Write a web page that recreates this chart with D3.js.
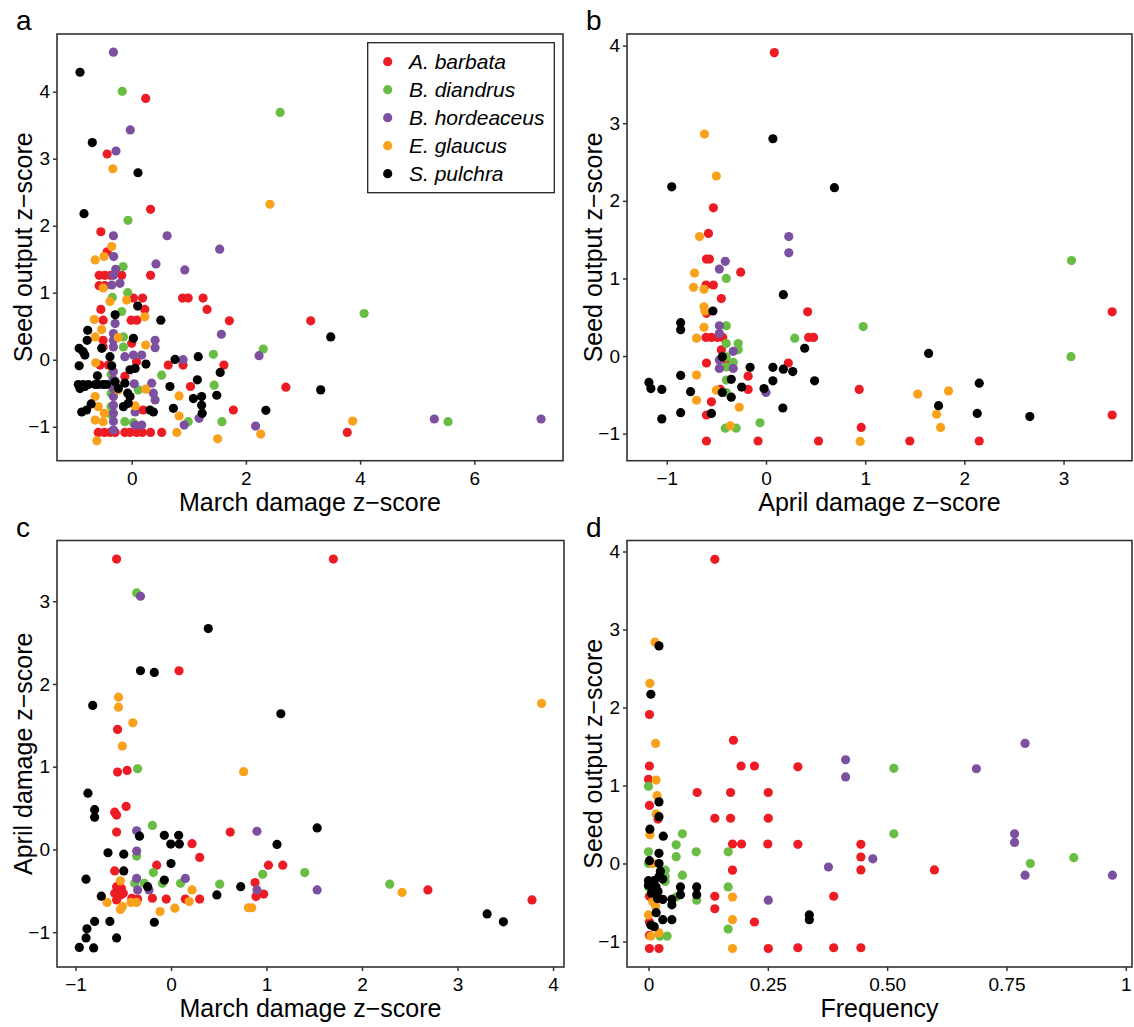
<!DOCTYPE html>
<html>
<head>
<meta charset="utf-8">
<script src="https://cdn.jsdelivr.net/npm/d3@7"></script>
<style>
  html, body { margin: 0; padding: 0; background: #fff; }
  svg { display: block; font-family: "Liberation Sans", Arial, Helvetica, sans-serif; }
</style>
</head>
<body>
<svg id="chart" width="1134" height="1027"></svg>
<script>
// ---------------- DATA ----------------
const species = ["A. barbata", "B. diandrus", "B. hordeaceus", "E. glaucus", "S. pulchra"];

// Panel a: March damage z-score (x) vs Seed output z-score (y)
const a_barbata = [[0.245,3.90],[-0.43,3.07],[0.33,2.245],[-0.54,1.91],[-0.43,1.61],
  [0.33,1.26],[-0.57,1.26],[-0.47,1.26],[-0.37,1.26],[-0.175,1.26],[-0.57,1.105],[-0.47,1.105],
  [0.03,0.92],[0.19,0.92],[0.89,0.92],[0.99,0.92],[1.25,0.92],[1.32,0.75],[0.23,0.75],[-0.54,0.75],
  [-0.01,0.59],[0.09,0.59],[-0.5,0.59],[0.0,0.245],[-0.5,0.29],[-0.5,0.19],
  [-0.41,-0.08],[-0.555,-0.08],[0.085,-0.03],[0.64,-0.08],[0.9,-0.08],[-0.12,-0.25],[1.03,-0.40],[0.2,-0.75],
  [-0.585,-1.085],[-0.48,-1.085],[-0.38,-1.085],[-0.29,-1.085],[-0.12,-1.085],[-0.03,-1.085],[0.09,-1.085],
  [0.185,-1.085],[0.33,-1.085],[0.525,-1.085],
  [1.71,0.58],[3.135,0.58],[1.615,-0.08],[2.70,-0.41],[1.78,-0.75],[3.775,-1.085]];
const a_diandrus = [[-0.165,4.006],[2.60,3.69],[-0.065,2.08],[-0.15,1.39],[-0.34,0.93],[-0.07,1.0],[-0.175,0.72],
  [-0.145,0.34],[-0.145,0.19],[1.43,0.08],[0.525,-0.23],[0.115,-0.45],[1.445,-0.38],[0.99,-0.925],[1.58,-0.925],
  [-0.12,-0.925],[0.03,-0.94],[2.305,0.16],[4.07,0.69],[5.54,-0.925],
  [-0.36,-0.22],[-0.36,-0.35],[-0.36,-0.5],[-0.36,-0.7],[-0.36,-0.82]];
const a_hordeaceus = [[-0.32,4.59],[-0.025,3.43],[-0.275,3.115],[-0.32,1.85],[0.62,1.85],[-0.315,1.54],[1.54,1.65],
  [0.425,1.43],[0.93,1.34],[-0.28,1.35],[-0.32,1.26],[-0.205,1.14],[-0.35,1.115],[-0.29,0.54],
  [-0.32,0.39],[-0.32,0.29],[-0.32,0.19],[0.41,0.29],[0.41,0.18],[-0.12,0.045],[0.03,0.07],[0.175,0.07],[0.9,0.0],
  [-0.32,-0.18],[-0.32,-0.30],[-0.32,-0.43],[-0.32,-0.55],[-0.32,-0.68],[-0.32,-0.80],[-0.32,-0.92],[-0.32,-1.05],
  [0.045,-0.36],[0.35,-0.35],[0.38,-0.50],[0.41,-0.60],[0.06,-0.78],[0.06,-0.975],[0.175,-0.975],[0.92,-0.975],
  [1.18,-0.875],[1.57,0.38],[2.23,0.06],[2.17,-0.99],[5.30,-0.885],[7.17,-0.885]];
const a_glaucus = [[-0.33,2.85],[2.42,2.32],[-0.35,1.69],[-0.485,1.54],[-0.64,1.49],[-0.5,1.07],[-0.38,0.87],
  [-0.09,0.89],[0.23,0.64],[-0.655,0.60],[-0.525,0.45],[-0.64,0.34],[-0.235,0.33],[0.245,0.22],[-0.63,-0.045],
  [-0.235,-0.45],[0.245,-0.44],[0.83,-0.54],[0.83,-0.84],[1.505,-1.18],[0.79,-1.085],[-0.61,-1.21],[-0.64,-0.9],
  [-0.5,-0.925],[-0.64,-0.55],[-0.585,-0.70],[0.06,-0.69],[-0.48,-0.80],[2.26,-1.11],[3.87,-0.915]];
const a_pulchra = [[-0.905,4.29],[-0.69,3.24],[0.11,2.79],[-0.835,2.18],[0.105,0.80],[-0.29,0.67],[0.51,0.59],
  [-0.77,0.44],[-0.78,0.29],[0.03,0.32],[-0.92,0.17],[-0.85,0.12],[-0.82,0.07],[-0.525,0.17],
  [-0.92,-0.09],[-0.38,0.045],[-0.35,-0.09],[0.06,-0.13],[-0.03,-0.15],[0.25,-0.065],[0.76,0.005],[1.165,0.045],[1.55,-0.19],
  [-0.935,-0.37],[-0.85,-0.37],[-0.76,-0.37],[-0.905,-0.43],[-0.82,-0.40],[-0.64,-0.37],[-0.585,-0.37],[-0.5,-0.37],[-0.44,-0.37],
  [-0.6,-0.24],[-0.29,-0.33],[-0.235,-0.43],[-0.12,-0.35],[-0.07,-0.50],[-0.03,-0.55],[-0.06,-0.65],
  [0.67,-0.40],[1.15,-0.30],[1.49,-0.53],[1.08,-0.58],[1.225,-0.55],[1.225,-0.68],[1.235,-0.80],[0.73,-0.725],
  [-0.875,-0.78],[-0.79,-0.75],[-0.71,-0.66],[0.32,-0.75],[0.38,-0.78],[-0.145,-0.70],
  [3.485,0.34],[3.31,-0.45],[2.35,-0.755]];

// Panel b: April damage z-score (x) vs Seed output z-score (y)
const b_barbata = [[0.084,3.91],[-0.53,1.91],[-0.58,1.58],[-0.60,1.25],[-0.57,1.25],[-0.255,1.08],[-0.605,0.915],
  [-0.53,0.915],[-0.45,0.74],[0.42,0.57],[-0.6,0.55],[-0.605,0.24],[-0.55,0.24],[-0.49,0.24],[-0.436,0.24],[0.43,0.24],
  [0.48,0.24],[-0.45,0.08],[-0.60,-0.09],[-0.39,-0.09],[0.225,-0.09],[-0.18,-0.26],[-0.18,-0.43],[-0.46,-0.43],
  [-0.55,-0.59],[-0.60,-0.76],[-0.60,-1.095],[-0.08,-1.095],[0.53,-1.095],[3.49,0.57],[0.94,-0.43],[3.49,-0.76],
  [0.96,-0.92],[1.45,-1.095],[2.15,-1.095]];
const b_diandrus = [[-0.40,1.0],[-0.40,0.39],[0.29,0.23],[-0.40,0.16],[-0.28,0.16],[-0.28,0.08],[-0.40,-0.01],
  [-0.33,-0.08],[-0.40,-0.14],[-0.40,-0.31],[-0.40,-0.47],[-0.06,-0.86],[-0.41,-0.93],[-0.30,-0.93],[3.08,1.23],
  [0.98,0.38],[3.075,-0.008]];
const b_hordeaceus = [[0.23,1.54],[0.23,1.33],[-0.41,1.22],[-0.47,1.12],[-0.47,0.39],[-0.47,0.29],[-0.33,0.06],
  [-0.47,-0.05],[-0.47,-0.16],[-0.33,-0.16],[0.0,-0.47]];
const b_glaucus = [[-0.62,2.86],[-0.50,2.32],[-0.67,1.54],[-0.72,1.07],[-0.73,0.885],[-0.625,0.86],[-0.625,0.635],
  [-0.615,0.58],[-0.625,0.37],[-0.70,0.23],[-0.70,-0.245],[-0.50,-0.44],[-0.70,-0.57],[-0.27,-0.66],[-0.36,-0.90],
  [1.53,-0.49],[1.84,-0.45],[1.72,-0.75],[1.76,-0.92],[0.95,-1.10]];
const b_pulchra = [[0.07,2.80],[-0.95,2.18],[0.69,2.17],[0.175,0.79],[-0.535,0.58],[-0.86,0.43],[-0.86,0.34],
  [0.39,0.10],[-0.44,-0.01],[-0.16,-0.146],[0.07,-0.146],[0.175,-0.17],[0.27,-0.20],[-0.86,-0.25],[-0.35,-0.30],
  [0.07,-0.32],[0.49,-0.32],[-1.18,-0.34],[-1.16,-0.42],[-1.05,-0.43],[-0.76,-0.46],[-0.245,-0.40],[-0.02,-0.42],
  [-0.44,-0.47],[-0.35,-0.53],[0.17,-0.67],[-0.86,-0.73],[-0.55,-0.74],[-1.05,-0.81],[1.64,0.034],[2.15,-0.35],
  [1.74,-0.64],[2.13,-0.74],[2.66,-0.78]];

// Panel c: March damage z-score (x) vs April damage z-score (y)
const c_barbata = [[-0.57,3.51],[0.084,2.16],[-0.56,1.45],[-0.56,0.935],[-0.46,0.955],[-0.47,0.52],[-0.59,0.45],
  [-0.57,0.415],[-0.57,0.21],[0.62,0.21],[0.22,0.07],[0.30,-0.097],[-0.15,-0.19],[1.02,-0.19],[1.17,-0.19],
  [-0.59,-0.26],[0.88,-0.40],[-0.57,-0.45],[-0.52,-0.47],[-0.59,-0.53],[-0.53,-0.55],[-0.5,-0.53],[-0.57,-0.61],
  [0.89,-0.57],[0.97,-0.54],[-0.41,-0.59],[-0.35,-0.60],[-0.195,-0.59],[-0.05,-0.60],[0.15,-0.60],[0.30,-0.60],
  [1.70,3.51],[2.69,-0.49],[3.78,-0.61]];
const c_diandrus = [[-0.36,3.10],[-0.35,0.975],[-0.195,0.29],[-0.36,-0.08],[-0.185,-0.28],[0.96,-0.30],[-0.38,-0.41],
  [-0.28,-0.41],[-0.09,-0.41],[0.10,-0.41],[0.51,-0.42],[1.40,-0.28],[2.29,-0.42]];
const c_hordeaceus = [[-0.32,3.06],[-0.36,0.225],[0.90,0.22],[-0.36,-0.02],[0.15,-0.35],[-0.36,-0.35],[-0.35,-0.49],
  [-0.23,-0.49],[0.90,-0.49],[1.53,-0.49]];
const c_glaucus = [[-0.55,1.84],[-0.55,1.72],[-0.40,1.53],[-0.51,1.25],[0.76,0.94],[-0.53,-0.38],[0.22,-0.49],
  [-0.67,-0.64],[-0.42,-0.64],[-0.36,-0.64],[0.19,-0.63],[-0.53,-0.725],[-0.51,-0.69],[-0.115,-0.75],[0.04,-0.71],
  [0.81,-0.705],[0.845,-0.705],[3.88,1.765],[2.42,-0.52]];
const c_pulchra = [[0.39,2.67],[-0.32,2.16],[-0.175,2.14],[-0.82,1.74],[1.15,1.64],[-0.87,0.68],[-0.80,0.48],
  [-0.80,0.39],[-0.33,0.16],[-0.07,0.17],[0.08,0.17],[-0.003,0.065],[0.087,0.065],[1.11,0.06],[-0.66,-0.04],
  [-0.495,-0.057],[0.0,-0.17],[-0.495,-0.26],[-0.89,-0.36],[-0.07,-0.37],[-0.245,-0.45],[0.73,-0.45],[0.48,-0.55],
  [-0.73,-0.565],[-0.64,-0.87],[-0.80,-0.87],[-0.175,-0.88],[-0.88,-0.96],[-0.89,-1.07],[-0.57,-1.07],
  [-0.96,-1.185],[-0.81,-1.19],[1.53,0.26],[3.31,-0.78],[3.48,-0.875]];

// Panel d: Frequency (x) vs Seed output z-score (y)
const d_barbata = [[0.139,3.90],[0.002,1.91],[0.178,1.58],[0.194,1.25],[0.222,1.25],[0.002,1.25],[0.0,1.08],
  [0.102,0.91],[0.172,0.91],[0.251,0.91],[0.002,0.745],[0.02,0.57],[0.139,0.58],[0.172,0.58],[0.251,0.58],
  [0.176,0.25],[0.195,0.25],[0.25,0.25],[0.176,-0.085],[0.139,-0.42],[0.002,-0.42],[0.139,-0.58],[0.222,-0.75],
  [0.002,-0.75],[0.002,-0.92],[0.002,-1.09],[0.022,-1.09],[0.251,-1.09],[0.313,1.24],[0.313,0.246],[0.445,0.246],
  [0.445,0.083],[0.445,-0.083],[0.599,-0.083],[0.388,-0.42],[0.313,-1.08],[0.388,-1.08],[0.445,-1.08]];
const d_diandrus = [[0.0,0.99],[0.071,0.38],[0.058,0.24],[0.0,0.15],[0.10,0.15],[0.167,0.15],[0.058,0.087],
  [0.0,0.0],[0.071,-0.15],[0.035,-0.085],[0.035,-0.17],[0.035,-0.23],[0.0,-0.3],[0.058,-0.43],[0.101,-0.47],
  [0.167,-0.30],[0.167,-0.84],[0.024,-0.93],[0.039,-0.93],[0.514,1.22],[0.514,0.38],[0.891,0.074],[0.80,0.0]];
const d_hordeaceus = [[0.251,-0.47],[0.789,1.54],[0.413,1.33],[0.413,1.11],[0.687,1.215],[0.767,0.38],[0.767,0.27],
  [0.47,0.06],[0.377,-0.045],[0.789,-0.15],[0.972,-0.15]];
const d_glaucus = [[0.0136,2.84],[0.003,2.31],[0.015,1.54],[0.016,1.07],[0.018,0.87],[0.016,0.635],[0.003,0.37],
  [0.009,0.0],[0.01,-0.28],[0.176,-0.43],[0.009,-0.49],[0.015,-0.55],[0.176,-0.72],[0.0,-0.66],[0.005,-0.93],
  [0.022,-0.89],[0.176,-1.09]];
const d_pulchra = [[0.022,2.79],[0.005,2.17],[0.022,0.79],[0.022,0.60],[0.003,0.44],[0.031,0.35],[0.022,0.13],
  [0.002,0.036],[0.022,0.0],[0.067,-0.30],[0.067,-0.40],[0.101,-0.30],[0.101,-0.40],[0.03,-0.46],[0.049,-0.46],
  [0.049,-0.53],[0.016,-0.63],[0.03,-0.72],[0.049,-0.72],[0.005,-0.79],[0.012,-0.81],[0.337,-0.66],[0.337,-0.72],
  [0.0,-0.22],[0.012,-0.22],[0.022,-0.17],[0.025,-0.1],[0.016,-0.3],[0.02,-0.36],[0.006,-0.38],[0.019,-0.45],
  [0.0,-0.28],[0.03,-0.2]];

// Tick values and labels
const ticksMarch = [0, 2, 4, 6];
const ticksSeed = [-1, 0, 1, 2, 3, 4];
const ticksApril = [-1, 0, 1, 2, 3];
const ticksMarchC = [-1, 0, 1, 2, 3, 4];
const ticksAprilC = [-1, 0, 1, 2, 3];
const ticksFreq = [0, 0.25, 0.5, 0.75, 1];
const ticksFreqLabels = ["0", "0.25", "0.50", "0.75", "1"];

// ---------------- STYLE / LAYOUT ----------------
const colors = ["#ED1C24", "#69BD45", "#7D4F9F", "#F9A11B", "#000000"];
const R = 4.6;
const FONT_TICK = 19, FONT_TITLE = 25, FONT_LETTER = 28, FONT_LEGEND = 21;
const AXIS_COLOR = "#333333";

const fmt = v => String(v).replace("-", "\u2212");

const panels = [
  { letter: "a", data: [a_barbata, a_diandrus, a_hordeaceus, a_glaucus, a_pulchra],
    left: 57, right: 563, top: 34, bottom: 460.7,
    xDomain: [-1.308, 7.553], yDomain: [-1.507, 4.861],
    xTicks: ticksMarch, yTicks: ticksSeed, xLabels: null,
    xTitle: "March damage z\u2212score", yTitle: "Seed output z\u2212score", legend: true },
  { letter: "b", data: [b_barbata, b_diandrus, b_hordeaceus, b_glaucus, b_pulchra],
    left: 627, right: 1132, top: 34, bottom: 460.7,
    xDomain: [-1.401, 3.69], yDomain: [-1.349, 4.15],
    xTicks: ticksApril, yTicks: ticksSeed, xLabels: null,
    xTitle: "April damage z\u2212score", yTitle: "Seed output z\u2212score" },
  { letter: "c", data: [c_barbata, c_diandrus, c_hordeaceus, c_glaucus, c_pulchra],
    left: 57, right: 564, top: 540.5, bottom: 967,
    xDomain: [-1.194, 4.115], yDomain: [-1.421, 3.734],
    xTicks: ticksMarchC, yTicks: ticksAprilC, xLabels: null,
    xTitle: "March damage z\u2212score", yTitle: "April damage z\u2212score" },
  { letter: "d", data: [d_barbata, d_diandrus, d_hordeaceus, d_glaucus, d_pulchra],
    left: 627, right: 1132, top: 540.5, bottom: 967,
    xDomain: [-0.045, 1.013], yDomain: [-1.327, 4.141],
    xTicks: ticksFreq, yTicks: ticksSeed, xLabels: ticksFreqLabels,
    xTitle: "Frequency", yTitle: "Seed output z\u2212score" }
];

// ---------------- DRAW ----------------
const svg = d3.select("#chart");
svg.append("rect").attr("width", 1134).attr("height", 1027).attr("fill", "#fff");

panels.forEach(p => {
  const x = d3.scaleLinear().domain(p.xDomain).range([p.left, p.right]);
  const y = d3.scaleLinear().domain(p.yDomain).range([p.bottom, p.top]);
  const g = svg.append("g");

  // points
  p.data.forEach((arr, si) => {
    g.append("g").selectAll("circle").data(arr).join("circle")
      .attr("cx", d => x(d[0])).attr("cy", d => y(d[1])).attr("r", R)
      .attr("fill", colors[si]);
  });

  // axes
  const xAxis = d3.axisBottom(x).tickValues(p.xTicks).tickSize(4).tickSizeOuter(0).tickPadding(7)
    .tickFormat((v, i) => p.xLabels ? p.xLabels[i] : fmt(v));
  const yAxis = d3.axisLeft(y).tickValues(p.yTicks).tickSize(4).tickSizeOuter(0).tickPadding(3)
    .tickFormat(v => fmt(v));
  const gx = g.append("g").attr("transform", `translate(0,${p.bottom})`).call(xAxis);
  const gy = g.append("g").attr("transform", `translate(${p.left},0)`).call(yAxis);
  [gx, gy].forEach(ax => {
    ax.select(".domain").remove();
    ax.selectAll(".tick line").attr("stroke", AXIS_COLOR).attr("stroke-width", 1.5);
    ax.selectAll(".tick text").attr("fill", "#000").style("font-size", FONT_TICK + "px")
      .style("font-family", "'Liberation Sans', Arial, sans-serif");
  });

  // panel border
  g.append("rect").attr("x", p.left).attr("y", p.top)
    .attr("width", p.right - p.left).attr("height", p.bottom - p.top)
    .attr("fill", "none").attr("stroke", AXIS_COLOR).attr("stroke-width", 1.6);

  // axis titles
  g.append("text").attr("x", (p.left + p.right) / 2).attr("y", p.bottom + 50)
    .attr("text-anchor", "middle").style("font-size", FONT_TITLE + "px").text(p.xTitle);
  g.append("text")
    .attr("transform", `translate(${p.left - 25},${(p.top + p.bottom) / 2}) rotate(-90)`)
    .attr("text-anchor", "middle").style("font-size", FONT_TITLE + "px").text(p.yTitle);

  // panel letter
  g.append("text").attr("x", p.left - 41).attr("y", p.top - 4)
    .style("font-size", FONT_LETTER + "px").text(p.letter);

  // legend
  if (p.legend) {
    const lg = g.append("g");
    lg.append("rect").attr("x", 367.7).attr("y", 42.7).attr("width", 186.6).attr("height", 150)
      .attr("fill", "#fff").attr("stroke", "#222").attr("stroke-width", 1.3);
    species.forEach((s, i) => {
      const yy = 61.7 + i * 28;
      lg.append("circle").attr("cx", 387.7).attr("cy", yy).attr("r", R).attr("fill", colors[i]);
      lg.append("text").attr("x", 409).attr("y", yy).attr("dy", "0.35em")
        .style("font-size", FONT_LEGEND + "px").style("font-style", "italic").text(s);
    });
  }
});
</script>
</body>
</html>
